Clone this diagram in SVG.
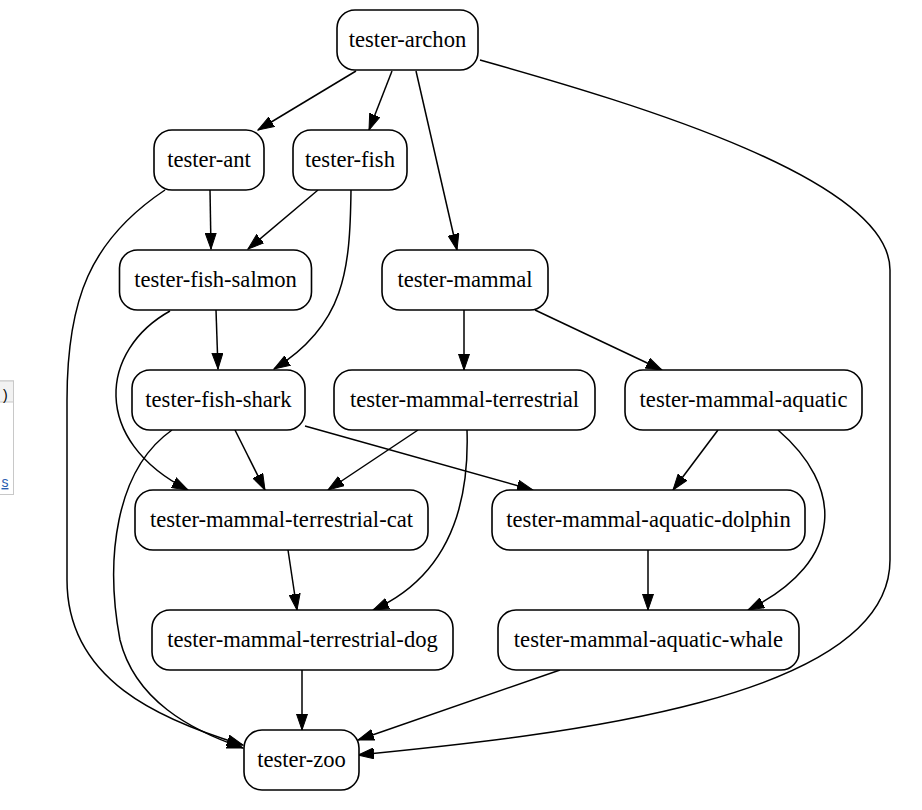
<svg xmlns="http://www.w3.org/2000/svg" width="922" height="810" viewBox="0 0 922 810">
<style>
.n rect{fill:#fff;stroke:#000;stroke-width:1.6}
.n text{font-family:"Liberation Serif","Times New Roman",serif;font-size:22.6px;text-anchor:middle;fill:#000}
.e path{fill:none;stroke:#000;stroke-width:1.5}
.ui{font-family:"Liberation Sans",Arial,sans-serif;font-size:14px}
</style>
<defs>
<marker id="ah" markerUnits="userSpaceOnUse" markerWidth="17" markerHeight="12" refX="16" refY="6" orient="auto" viewBox="0 0 17 12">
<path d="M0,0.5 L16,6 L0,11.5 z" fill="#000" stroke="#000" stroke-width="1"/>
</marker>
</defs>
<rect width="922" height="810" fill="#fff"/>
<g id="ui-fragment">
<rect x="-2" y="381" width="15.5" height="113.5" fill="#fff" stroke="#c8c8c8" stroke-width="1"/>
<rect x="-2" y="381" width="15.5" height="21" fill="#f2f2f2" stroke="#c8c8c8" stroke-width="1"/>
<text class="ui" x="3" y="400" fill="#000">)</text>
<text class="ui" x="1.5" y="487" fill="#2a5db0" text-decoration="underline">s</text>
</g>
<g id="edges" class="e">
<path d="M356,71 L258,130" marker-end="url(#ah)"/>
<path d="M392,71 L369,130" marker-end="url(#ah)"/>
<path d="M416,71 L457,250" marker-end="url(#ah)"/>
<path d="M480,60 C640,105 890,180 890,270 L890,560 C890,700 560,735 358,755" marker-end="url(#ah)"/>
<path d="M210,190 L211,249" marker-end="url(#ah)"/>
<path d="M165,190 C90,240 67,300 67,400 L67,580 C67,680 160,720 243,745" marker-end="url(#ah)"/>
<path d="M318,190 L248,249" marker-end="url(#ah)"/>
<path d="M351,190 C350,270 345,325 274,369" marker-end="url(#ah)"/>
<path d="M216,310 L218,369" marker-end="url(#ah)"/>
<path d="M170,311 C100,350 90,440 188,490" marker-end="url(#ah)"/>
<path d="M235,430 L265,490" marker-end="url(#ah)"/>
<path d="M305,426 L533,490" marker-end="url(#ah)"/>
<path d="M172,430 C115,470 105,560 120,640 C135,700 190,730 243,748" marker-end="url(#ah)"/>
<path d="M464,310 L464,370" marker-end="url(#ah)"/>
<path d="M535,310 L662,370" marker-end="url(#ah)"/>
<path d="M418,430 L328,490" marker-end="url(#ah)"/>
<path d="M467,430 C470,520 440,580 373,610" marker-end="url(#ah)"/>
<path d="M718,430 L673,490" marker-end="url(#ah)"/>
<path d="M778,430 C842,485 848,560 748,610" marker-end="url(#ah)"/>
<path d="M288,550 L297,610" marker-end="url(#ah)"/>
<path d="M648,550 L648,610" marker-end="url(#ah)"/>
<path d="M302,670 L302,730" marker-end="url(#ah)"/>
<path d="M560,670 L358,740" marker-end="url(#ah)"/>
</g>
<g id="tester-archon" class="n"><rect x="337" y="10" width="141" height="60" rx="18"/><text x="407.5" y="47">tester-archon</text></g>
<g id="tester-ant" class="n"><rect x="154" y="130" width="110" height="60" rx="18"/><text x="209" y="167">tester-ant</text></g>
<g id="tester-fish" class="n"><rect x="293" y="130" width="114" height="60" rx="18"/><text x="350" y="167">tester-fish</text></g>
<g id="tester-fish-salmon" class="n"><rect x="119.5" y="250" width="192" height="60" rx="18"/><text x="215.5" y="287">tester-fish-salmon</text></g>
<g id="tester-mammal" class="n"><rect x="382" y="250" width="166" height="60" rx="18"/><text x="465" y="287">tester-mammal</text></g>
<g id="tester-fish-shark" class="n"><rect x="132" y="370" width="173" height="60" rx="18"/><text x="218.5" y="407">tester-fish-shark</text></g>
<g id="tester-mammal-terrestrial" class="n"><rect x="334" y="370" width="261" height="60" rx="18"/><text x="464.5" y="407">tester-mammal-terrestrial</text></g>
<g id="tester-mammal-aquatic" class="n"><rect x="625" y="370" width="237" height="60" rx="18"/><text x="743.5" y="407">tester-mammal-aquatic</text></g>
<g id="tester-mammal-terrestrial-cat" class="n"><rect x="135" y="490" width="293" height="60" rx="18"/><text x="281.5" y="527">tester-mammal-terrestrial-cat</text></g>
<g id="tester-mammal-aquatic-dolphin" class="n"><rect x="492" y="490" width="313" height="60" rx="18"/><text x="648.5" y="527">tester-mammal-aquatic-dolphin</text></g>
<g id="tester-mammal-terrestrial-dog" class="n"><rect x="152" y="610" width="301" height="60" rx="18"/><text x="302.5" y="647">tester-mammal-terrestrial-dog</text></g>
<g id="tester-mammal-aquatic-whale" class="n"><rect x="498" y="610" width="301" height="60" rx="18"/><text x="648.5" y="647">tester-mammal-aquatic-whale</text></g>
<g id="tester-zoo" class="n"><rect x="244" y="730" width="115" height="60" rx="18"/><text x="301.5" y="767">tester-zoo</text></g>
</svg>
